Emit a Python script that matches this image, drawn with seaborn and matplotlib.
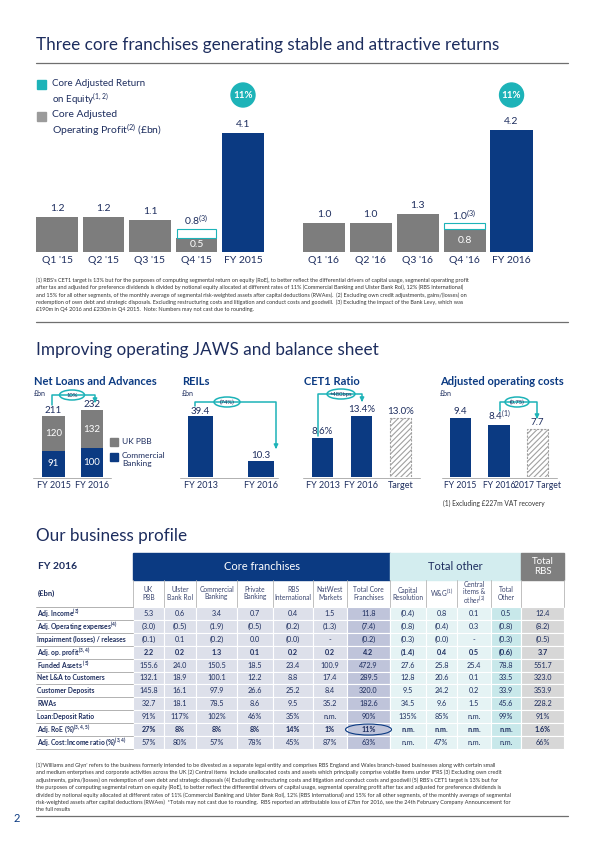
import matplotlib
matplotlib.use("Agg")
import matplotlib.pyplot as plt
import pandas as pd
import seaborn as sns
from matplotlib.patches import Rectangle, Circle, Ellipse

# ---------------- data ----------------
q_labels_15 = ["Q1 '15", "Q2 '15", "Q3 '15", "Q4 '15", "FY 2015"]
profit_15 = [1.2, 1.2, 1.1, 0.5, 4.1]
q_labels_16 = ["Q1 '16", "Q2 '16", "Q3 '16", "Q4 '16", "FY 2016"]
profit_16 = [1.0, 1.0, 1.3, 0.8, 4.2]
q4_excl_levy = [0.8, 1.0]          # Q4 '15, Q4 '16 excluding bank levy
roe_fy = ["11%", "11%"]

loan_years = ["FY 2015", "FY 2016"]
loans_pbb = [120, 132]
loans_cb = [91, 100]
loans_total = [211, 232]

reil_years = ["FY 2013", "FY 2016"]
reils = [39.4, 10.3]

cet1_labels = ["FY 2013", "FY 2016", "Target"]
cet1 = [8.6, 13.4, 13.0]

cost_labels = ["FY 2015", "FY 2016", "2017 Target"]
costs = [9.4, 8.4, 7.7]

table_cols = ["UK\nPBB", "Ulster\nBank RoI", "Commercial\nBanking", "Private\nBanking",
              "RBS\nInternational", "NatWest\nMarkets", "Total Core\nFranchises",
              "Capital\nResolution", "W&G$^{(1)}$", "Central\nitems &\nother$^{(2)}$",
              "Total\nOther", ""]
table_rows = ["Adj. Income$^{(3)}$", "Adj. Operating expenses$^{(4)}$",
              "Impairment (losses) / releases", "Adj. op. profit$^{(3,4)}$",
              "Funded Assets $^{(5)}$", "Net L&A to Customers", "Customer Deposits",
              "RWAs", "Loan:Deposit Ratio", "Adj. RoE (%)$^{(3,4,5)}$",
              "Adj. Cost:Income ratio (%)$^{(3,4)}$"]
table_vals = [
    ["5.3", "0.6", "3.4", "0.7", "0.4", "1.5", "11.8", "(0.4)", "0.8", "0.1", "0.5", "12.4"],
    ["(3.0)", "(0.5)", "(1.9)", "(0.5)", "(0.2)", "(1.3)", "(7.4)", "(0.8)", "(0.4)", "0.3", "(0.8)", "(8.2)"],
    ["(0.1)", "0.1", "(0.2)", "0.0", "(0.0)", "-", "(0.2)", "(0.3)", "(0.0)", "-", "(0.3)", "(0.5)"],
    ["2.2", "0.2", "1.3", "0.1", "0.2", "0.2", "4.2", "(1.4)", "0.4", "0.5", "(0.6)", "3.7"],
    ["155.6", "24.0", "150.5", "18.5", "23.4", "100.9", "472.9", "27.6", "25.8", "25.4", "78.8", "551.7"],
    ["132.1", "18.9", "100.1", "12.2", "8.8", "17.4", "289.5", "12.8", "20.6", "0.1", "33.5", "323.0"],
    ["145.8", "16.1", "97.9", "26.6", "25.2", "8.4", "320.0", "9.5", "24.2", "0.2", "33.9", "353.9"],
    ["32.7", "18.1", "78.5", "8.6", "9.5", "35.2", "182.6", "34.5", "9.6", "1.5", "45.6", "228.2"],
    ["91%", "117%", "102%", "46%", "35%", "n.m.", "90%", "135%", "85%", "n.m.", "99%", "91%"],
    ["27%", "8%", "8%", "8%", "14%", "1%", "11%", "n.m.", "n.m.", "n.m.", "n.m.", "1.6%"],
    ["57%", "80%", "57%", "78%", "45%", "87%", "63%", "n.m.", "47%", "n.m.", "n.m.", "66%"],
]

note_top = (
    "(1) RBS's CET1 target is 13% but for the purposes of computing segmental return on equity (RoE), to better reflect the differential drivers of capital usage, segmental operating profit\n"
    "after tax and adjusted for preference dividends is divided by notional equity allocated at different rates of 11% (Commercial Banking and Ulster Bank RoI), 12% (RBS International)\n"
    "and 15% for all other segments, of the monthly average of segmental risk-weighted assets after capital deductions (RWAes).  (2) Excluding own credit adjustments, gains/(losses) on\n"
    "redemption of own debt and strategic disposals. Excluding restructuring costs and litigation and conduct costs and goodwill.  (3) Excluding the impact of the Bank Levy, which was\n"
    "£190m in Q4 2016 and £230m in Q4 2015.  Note: Numbers may not cast due to rounding."
)
note_bottom = (
    "(1)'Williams and Glyn' refers to the business formerly intended to be divested as a separate legal entity and comprises RBS England and Wales branch-based businesses along with certain small\n"
    "and medium enterprises and corporate activities across the UK (2) Central items  include unallocated costs and assets which principally comprise volatile items under IFRS (3) Excluding own credit\n"
    "adjustments, gains/(losses) on redemption of own debt and strategic disposals (4) Excluding restructuring costs and litigation and conduct costs and goodwill (5) RBS's CET1 target is 13% but for\n"
    "the purposes of computing segmental return on equity (RoE), to better reflect the differential drivers of capital usage, segmental operating profit after tax and adjusted for preference dividends is\n"
    "divided by notional equity allocated at different rates of 11% (Commercial Banking and Ulster Bank RoI), 12% (RBS International) and 15% for all other segments, of the monthly average of segmental\n"
    "risk-weighted assets after capital deductions (RWAes)  *Totals may not cast due to rounding.  RBS reported an attributable loss of £7bn for 2016, see the 24th February Company Announcement for\n"
    "the full results"
)

# ---------------- style ----------------
NAVY = "#0b3a82"
TXT = "#1d2d5e"
TEAL = "#1db3b8"
GREY = "#7d7d7d"
HATCH = "#a0a0a0"

sns.set_style("white")
plt.rcParams["font.family"] = ["Lato", "DejaVu Sans"]
plt.rcParams["mathtext.fontset"] = "custom"
plt.rcParams["mathtext.rm"] = "Lato"
plt.rcParams["mathtext.bf"] = "Lato:bold"
plt.rcParams["mathtext.default"] = "regular"
plt.rcParams["hatch.color"] = HATCH
plt.rcParams["hatch.linewidth"] = 0.8

W, H = 600, 848
fig = plt.figure(figsize=(6, 8.48), dpi=100)


def px_axes(x0, x1, ytop, ybot):
    return fig.add_axes([x0 / W, 1 - ybot / H, (x1 - x0) / W, (ybot - ytop) / H])


def bar_panel(ax, labels, values, colors, width, ymax, size=7.5):
    df = pd.DataFrame({"cat": labels, "val": values})
    sns.barplot(data=df, x="cat", y="val", hue="cat", palette=colors, width=width,
                saturation=1, legend=False, linewidth=0, ax=ax)
    ax.set_xlim(-0.5, len(labels) - 0.5)
    ax.set_ylim(0, ymax)
    ax.set_xlabel("")
    ax.set_ylabel("")
    ax.set_yticks([])
    ax.tick_params(axis="x", length=0, labelsize=size, labelcolor=TXT, pad=3)
    for s in ax.spines.values():
        s.set_visible(False)
    ax.patch.set_visible(False)


def label(ax, x, y, s, dy=2, color=TXT, size=7.5, weight="normal"):
    ax.annotate(s, (x, y), xytext=(0, dy), textcoords="offset points",
                ha="center", va="bottom", color=color, fontsize=size, fontweight=weight)


# overlay axes in pixel coordinates
ov = fig.add_axes([0, 0, 1, 1])
ov.set_xlim(0, W)
ov.set_ylim(H, 0)
ov.axis("off")
ov.set_zorder(10)
ov.patch.set_visible(False)

# ============ Section 1 ============
ov.text(36, 50, "Three core franchises generating stable and attractive returns",
        color=TXT, fontsize=12.3, va="baseline")
ov.plot([36, 568], [63, 63], color="#6f6f6f", lw=0.9)

ov.add_patch(Rectangle((37, 80), 9, 9, color=TEAL))
ov.text(52, 79, "Core Adjusted Return\non Equity$^{(1,2)}$", color=TXT, fontsize=7,
        va="top", linespacing=1.25)
ov.add_patch(Rectangle((37, 112), 9, 9, color="#9b9b9b"))
ov.text(52, 110, "Core Adjusted\nOperating Profit$^{(2)}$ (£bn)", color=TXT, fontsize=7.5,
        va="top", linespacing=1.25)

for (x0, x1), labs, vals, excl, roe in [((33.75, 266.25), q_labels_15, profit_15, q4_excl_levy[0], roe_fy[0]),
                                        ((300.5, 535.0), q_labels_16, profit_16, q4_excl_levy[1], roe_fy[1])]:
    ax = px_axes(x0, x1, 121.5, 252)
    bar_panel(ax, labs, vals, [GREY] * 4 + [NAVY], 0.9, 4.5, size=7.5)
    # Q4 excluding bank levy outline
    ax.bar(3, excl - vals[3], bottom=vals[3], width=0.86, facecolor="white",
           edgecolor=TEAL, linewidth=0.8)
    for i, v in enumerate(vals):
        if i == 3:
            label(ax, i, excl, f"{excl:.1f}$^{{(3)}}$", dy=1)
            ax.text(i, vals[3] / 2, f"{v:.1f}", ha="center", va="center", color="white", fontsize=7.5)
        else:
            label(ax, i, v, f"{v:.1f}", dy=3)
    cx = x0 + (x1 - x0) * 0.9
    ov.add_patch(Circle((cx, 95), 12, color=TEAL))
    ov.text(cx, 95.5, roe, color="white", fontsize=7, fontweight="bold", ha="center", va="center")

ov.text(36, 277, note_top, color="#333333", fontsize=3.95, va="top", linespacing=1.45)
ov.plot([36, 568], [322, 322], color="#6f6f6f", lw=0.9)

# ============ Section 2 ============
ov.text(36, 355, "Improving operating JAWS and balance sheet", color=TXT, fontsize=12.3,
        va="baseline")
for x, t in [(34, "Net Loans and Advances"), (182, "REILs"), (304, "CET1 Ratio"),
             (440, "Adjusted operating costs")]:
    ov.text(x, 385, t, color=NAVY, fontsize=8, fontweight="bold", va="baseline")
for x in [34, 182, 440]:
    ov.text(x, 396, "£bn", color=TXT, fontsize=5, va="baseline")

# Net loans (stacked)
ax = px_axes(34.25, 111.25, 402, 477)
bar_panel(ax, loan_years, loans_total, [GREY, GREY], 0.58, 260, size=6.5)
sns.barplot(x=loan_years, y=loans_cb, color=NAVY, saturation=1, width=0.58,
            linewidth=0, ax=ax)
ax.set_ylim(0, 260)
ax.set_xlabel("")
ax.set_ylabel("")
for i in range(2):
    label(ax, i, loans_total[i], str(loans_total[i]), dy=0.5, size=7)
    ax.text(i, loans_cb[i] + loans_pbb[i] / 2, str(loans_pbb[i]), ha="center", va="center",
            color="white", fontsize=7)
    ax.text(i, loans_cb[i] / 2, str(loans_cb[i]), ha="center", va="center", color="white", fontsize=7)
ov.add_patch(Rectangle((110, 438), 8, 8, color=GREY))
ov.text(122, 442, "UK PBB", color=TXT, fontsize=6, va="center")
ov.add_patch(Rectangle((110, 453), 8, 8, color=NAVY))
ov.text(122, 452, "Commercial\nBanking", color=TXT, fontsize=6, va="top", linespacing=1.2)

# REILs
ax = px_axes(170.25, 291.25, 403, 477)
bar_panel(ax, reil_years, reils, [NAVY, NAVY], 0.42, 48, size=6.5)
for i, v in enumerate(reils):
    label(ax, i, v, f"{v:.1f}", dy=0.5, size=7)

# CET1
ax = px_axes(303, 420, 402, 477)
bar_panel(ax, cet1_labels, cet1, [NAVY, NAVY, "white"], 0.55, 16.5, size=6.5)
for i, v in enumerate(cet1):
    label(ax, i, v, f"{v:.1f}%", dy=1.5, size=7)

# Adjusted operating costs
ax2 = px_axes(441.25, 556.75, 402, 477)
bar_panel(ax2, cost_labels, costs, [NAVY, NAVY, "white"], 0.56, 12, size=6.2)
for i, v in enumerate(costs):
    label(ax2, i, v, f"{v:.1f}" + ("$^{(1)}$" if i == 1 else ""), dy=1.5, size=7)

for a in [ax, ax2]:
    p = a.patches[2]
    p.set_hatch("//////")
    p.set_edgecolor(HATCH)
    p.set_linewidth(0.8)
    p.set_linestyle((0, (2, 1.2)))

for x0, x1 in [(33, 111), (180, 278), (303, 420), (442, 557)]:
    ov.plot([x0, x1], [477.5, 477.5], color="#b0b0b0", lw=0.7)

# change arrows: (x start, x end), start y, bracket y, arrow tip y, ellipse x, ellipse width, text
for xs, ys, yh, ye, cx, w, t in [((52, 95), 405, 395, 403, 72, 25, "10%"),
                                 ((195, 276), 406, 402, 449, 227, 26, "(74%)"),
                                 ((318, 362), 436, 394, 402, 341, 28, "+480bps"),
                                 ((500, 537), 411, 402, 419, 517, 24, "(0.75)")]:
    ov.plot([xs[0], xs[0], xs[1], xs[1]], [ys, yh, yh, ye - 4], color=TEAL, lw=1.1)
    ov.annotate("", xy=(xs[1], ye), xytext=(xs[1], ye - 5),
                arrowprops=dict(arrowstyle="-|>", color=TEAL, lw=1.1, mutation_scale=6))
    ov.add_patch(Ellipse((cx, yh), w, 10, facecolor="white", edgecolor=TEAL, lw=1.1))
    ov.text(cx, yh + 0.3, t, color=TXT, fontsize=4.2, ha="center", va="center")

ov.text(443, 503, "(1) Excluding £227m VAT recovery", color="#333333", fontsize=4.8, va="center")

# ============ Section 3: table ============
ov.text(36, 541, "Our business profile", color=TXT, fontsize=12.3, va="baseline")

edges = [133, 164, 196, 237, 273, 313, 347, 390, 426, 457, 491, 521, 564]
col_bg = ["#dde0ea"] * 6 + ["#bfc4da"] + ["#e5f3f4"] * 3 + ["#c8e8ea"] + ["#d7d7d7"]
r1, r2, r3 = 553, 580, 607
rh = 12.9

ov.text(38, (r1 + r2) / 2, "FY 2016", color=TXT, fontsize=7.5, fontweight="bold", va="center")
ov.add_patch(Rectangle((133, r1), 390 - 133, r2 - r1, color=NAVY))
ov.text((133 + 390) / 2, (r1 + r2) / 2, "Core franchises", color="white", fontsize=8, ha="center", va="center")
ov.add_patch(Rectangle((390, r1), 521 - 390, r2 - r1, color="#d3edef"))
ov.text((390 + 521) / 2, (r1 + r2) / 2, "Total other", color=TXT, fontsize=8, ha="center", va="center")
ov.add_patch(Rectangle((521, r1), 564 - 521, r2 - r1, color="#7f7f7f"))
ov.text((521 + 564) / 2, (r1 + r2) / 2, "Total\nRBS", color="white", fontsize=7, ha="center",
        va="center", linespacing=1.0)

ov.text(38, (r2 + r3) / 2, "(£bn)", color=TXT, fontsize=5.5, fontweight="bold", va="center")
for j, name in enumerate(table_cols):
    xc = (edges[j] + edges[j + 1]) / 2
    ov.text(xc, (r2 + r3) / 2, name, color="#3b4670", fontsize=4.8, ha="center", va="center",
            linespacing=1.0)
for x in edges:
    ov.plot([x, x], [r2, r3], color="#b5b5b5", lw=0.6)

for i, (rname, vals) in enumerate(zip(table_rows, table_vals)):
    y0 = r3 + i * rh
    yc = y0 + rh / 2
    bold = i in (3, 9)
    ov.plot([36, 133], [y0, y0], color="#a5a5a5", lw=0.6)
    ov.text(37, yc, rname, color=TXT, fontsize=4.9, fontweight="bold", va="center")
    for j, v in enumerate(vals):
        ov.add_patch(Rectangle((edges[j], y0), edges[j + 1] - edges[j], rh,
                               facecolor=col_bg[j], edgecolor="white", lw=0.8))
        ov.text((edges[j] + edges[j + 1]) / 2, yc, v, color=TXT, fontsize=5.2, ha="center",
                va="center", fontweight="bold" if bold else "normal")
ov.plot([36, 133], [r3 + 11 * rh, r3 + 11 * rh], color="#a5a5a5", lw=0.6)
ov.add_patch(Ellipse(((347 + 390) / 2, r3 + 9.5 * rh), 46, 11, facecolor="none",
                     edgecolor=NAVY, lw=0.8))

ov.text(36, 762, note_bottom, color="#333333", fontsize=3.95, va="top", linespacing=1.45)
ov.plot([36, 568], [816, 816], color="#6f6f6f", lw=0.9)
ov.text(14, 818, "2", color=NAVY, fontsize=8, va="center")

fig.savefig("out.png", dpi=100)
